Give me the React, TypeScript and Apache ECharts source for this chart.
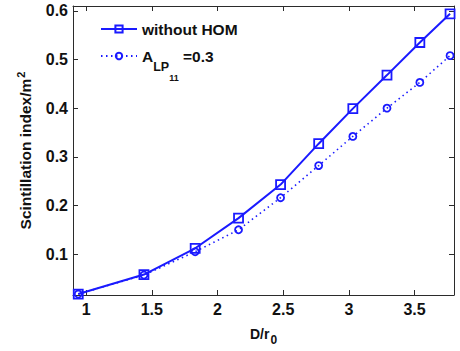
import React, { useEffect, useRef } from "react";
import * as echarts from "echarts";

// D/r0 sample positions
const ratio = [0.94, 1.44, 1.83, 2.16, 2.48, 2.77, 3.03, 3.29, 3.54, 3.77];
// scintillation index without higher-order modes
const withoutHOM = [0.018, 0.058, 0.112, 0.174, 0.243, 0.327, 0.399, 0.468, 0.535, 0.594];
// scintillation index with A_LP11 = 0.3
const withLP11 = [0.018, 0.057, 0.105, 0.15, 0.216, 0.282, 0.342, 0.4, 0.453, 0.508];

const xTicks = [1, 1.5, 2, 2.5, 3, 3.5];
const yTicks = [0.1, 0.2, 0.3, 0.4, 0.5, 0.6];

const BLUE = "#1a1aff";
const AXIS = "#2b2b2b";
const INK = "#111111";
const FONT = "Liberation Sans, Arial, sans-serif";

const pairs = (ys: number[]) => ratio.map((x, i) => [x, ys[i]]);

export default function App() {
  const ref = useRef<HTMLDivElement>(null);

  useEffect(() => {
    if (!ref.current) return;
    const chart = echarts.init(ref.current, undefined, { renderer: "svg" });

    const xBase = {
      type: "value" as const,
      min: 0.9,
      max: 3.8,
      axisLine: { show: true, onZero: false, lineStyle: { color: AXIS, width: 1 } },
      axisTick: { show: true, inside: true, length: 5, customValues: xTicks, lineStyle: { color: AXIS } },
      splitLine: { show: false },
    };
    const yBase = {
      type: "value" as const,
      min: 0.016,
      max: 0.61,
      axisLine: { show: true, onZero: false, lineStyle: { color: AXIS, width: 1 } },
      axisTick: { show: true, inside: true, length: 5, customValues: yTicks, lineStyle: { color: AXIS } },
      splitLine: { show: false },
    };

    chart.setOption({
      animation: false,
      backgroundColor: "#ffffff",
      grid: { left: 73, right: 6, top: 6, bottom: 56, containLabel: false },
      textStyle: { fontFamily: FONT },
      xAxis: [
        {
          ...xBase,
          position: "bottom",
          name: "D/r{sub|0}",
          nameLocation: "middle",
          nameGap: 26,
          nameMoveOverlap: false,
          nameTextStyle: {
            color: INK,
            fontSize: 14,
            fontWeight: "bold",
            fontFamily: FONT,
            rich: {
              sub: { fontSize: 12, fontWeight: "bold", fontFamily: FONT, color: INK, padding: [13, 0, 0, 1] },
            },
          },
          axisLabel: {
            show: true,
            customValues: xTicks,
            margin: 6,
            color: INK,
            fontSize: 16,
            fontWeight: "bold",
            fontFamily: FONT,
          },
        },
        { ...xBase, position: "top", axisLabel: { show: false } },
      ],
      yAxis: [
        {
          ...yBase,
          position: "left",
          name: "Scintillation index/m{sup|2}",
          nameLocation: "middle",
          nameGap: 37,
          nameMoveOverlap: false,
          nameRotate: 90,
          nameTextStyle: {
            color: INK,
            fontSize: 15.5,
            fontWeight: "bold",
            fontFamily: FONT,
            rich: {
              sup: { fontSize: 11, fontWeight: "bold", fontFamily: FONT, color: INK, padding: [0, 0, 10, 1] },
            },
          },
          axisLabel: {
            show: true,
            customValues: yTicks,
            margin: 5,
            color: INK,
            fontSize: 16,
            fontWeight: "bold",
            fontFamily: FONT,
          },
        },
        { ...yBase, position: "right", axisLabel: { show: false } },
      ],
      legend: [
        {
          data: ["without HOM"],
          orient: "vertical",
          left: 100,
          top: 21,
          padding: 0,
          itemWidth: 36,
          itemHeight: 9,
          textStyle: { color: INK, fontSize: 15.5, fontWeight: "bold", fontFamily: FONT },
        },
        {
          data: ["A_LP11=0.3"],
          orient: "vertical",
          left: 100,
          top: 48,
          padding: 0,
          itemWidth: 36,
          itemHeight: 8,
          formatter: () => "{m|A}{lp|LP}{n|11}{m| =0.3}",
          textStyle: {
            color: INK,
            fontSize: 15.5,
            fontWeight: "bold",
            fontFamily: FONT,
            rich: {
              m: { fontSize: 15.5, fontWeight: "bold", fontFamily: FONT, color: INK },
              lp: { fontSize: 12.5, fontWeight: "bold", fontFamily: FONT, color: INK, padding: [22, 0, 0, 0] },
              n: { fontSize: 9, fontWeight: "bold", fontFamily: FONT, color: INK, padding: [44, 0, 0, 0] },
            },
          },
        },
      ],
      series: [
        {
          name: "without HOM",
          type: "line",
          data: pairs(withoutHOM),
          symbol: "rect",
          symbolSize: 9,
          showAllSymbol: true,
          clip: false,
          lineStyle: { color: BLUE, width: 2 },
          itemStyle: { color: "transparent", borderColor: BLUE, borderWidth: 1.8 },
          z: 3,
        },
        {
          name: "A_LP11=0.3",
          type: "line",
          data: pairs(withLP11),
          symbol: "circle",
          symbolSize: 7,
          showAllSymbol: true,
          clip: false,
          lineStyle: { color: BLUE, width: 1.6, type: [1.5, 3.5] },
          itemStyle: { color: "transparent", borderColor: BLUE, borderWidth: 1.8 },
          z: 2,
        },
      ],
    });

    return () => chart.dispose();
  }, []);

  return (
    <div
      ref={ref}
      style={{ position: "fixed", left: 0, top: 0, width: 460, height: 351, background: "#fff" }}
    />
  );
}
